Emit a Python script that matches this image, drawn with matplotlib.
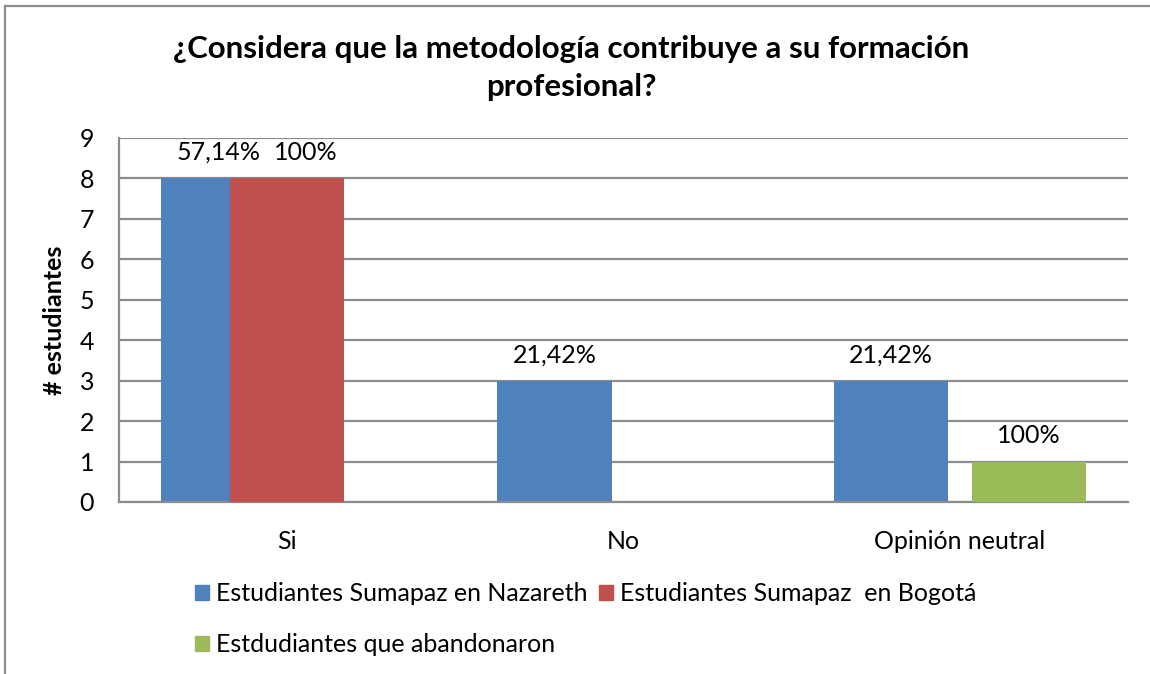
import matplotlib.pyplot as plt
import matplotlib.patches as mpatches
import numpy as np

plt.rcParams['font.family'] = ['Lato', 'DejaVu Sans']

categorias = ['Si', 'No', 'Opinión neutral']
series = ['Estudiantes Sumapaz en Nazareth',
          'Estudiantes Sumapaz  en Bogotá',
          'Estdudiantes que abandonaron']
nazareth = [8, 3, 3]
bogota = [8, 0, 0]
abandonaron = [0, 0, 1]
etiquetas = [['57,14%', '21,42%', '21,42%'],
             ['100%', '', ''],
             ['', '', '100%']]
colores = ['#4F81BD', '#C0504D', '#9BBB59']

valores = [nazareth, bogota, abandonaron]
desplaz = [-0.205, 0.0, 0.205]
ancho = 0.34
# small manual nudge of the label positions (as in the original sheet)
ajuste_etq = [[0, 0, 0], [0.055, 0, 0], [0, 0, 0]]

fig = plt.figure(figsize=(11.5, 6.74), dpi=100)
ax = fig.add_axes([0.1035, 0.2552, 0.8774, 0.5401])

x = np.arange(len(categorias))
for i in range(3):
    ax.bar(x + desplaz[i], valores[i], width=ancho, color=colores[i],
           zorder=2 + i, linewidth=0)
    for j in range(len(categorias)):
        if etiquetas[i][j]:
            ax.text(x[j] + desplaz[i] + ajuste_etq[i][j], valores[i][j] + 0.64,
                    etiquetas[i][j], ha='center', va='center', fontsize=18,
                    zorder=10)

ax.set_xlim(-0.5, 2.5)
ax.set_ylim(0, 9)
ax.set_yticks(range(10))
ax.set_xticks(x)
ax.set_xticklabels(categorias, fontsize=18)
ax.tick_params(axis='y', labelsize=18, length=0, pad=18)
ax.tick_params(axis='x', length=0, pad=20)
ax.grid(axis='y', color='#8C8C8C', linewidth=1.6, zorder=0)
ax.set_axisbelow(True)
for s in ['top', 'right']:
    ax.spines[s].set_visible(False)
for s in ['left', 'bottom']:
    ax.spines[s].set_color('#8C8C8C')
    ax.spines[s].set_linewidth(1.6)

ax.set_ylabel('# estudiantes', fontsize=18, fontweight='bold', labelpad=10)

fig.text(0.497, 0.899, '¿Considera que la metodología contribuye a su formación\nprofesional?',
         ha='center', va='center', fontsize=22.5, fontweight='bold', linespacing=1.42)

handles = [mpatches.Patch(color=c) for c in colores]
orden = [0, 2, 1]
fig.legend([handles[k] for k in orden], [series[k] for k in orden], ncol=2,
           loc='upper left', bbox_to_anchor=(195 / 1150, 0.136),
           frameon=False, fontsize=18, handlelength=0.56, handleheight=0.56,
           handletextpad=0.3, columnspacing=0.44, labelspacing=1.12,
           borderpad=0, borderaxespad=0)

# outer chart frame
fig.add_artist(plt.Line2D([0.0045, 0.0045], [0, 0.991], color='#8C8C8C', linewidth=1.6))
fig.add_artist(plt.Line2D([0.0045, 1.0], [0.991, 0.991], color='#8C8C8C', linewidth=1.6))

fig.savefig('out.png', dpi=100)
